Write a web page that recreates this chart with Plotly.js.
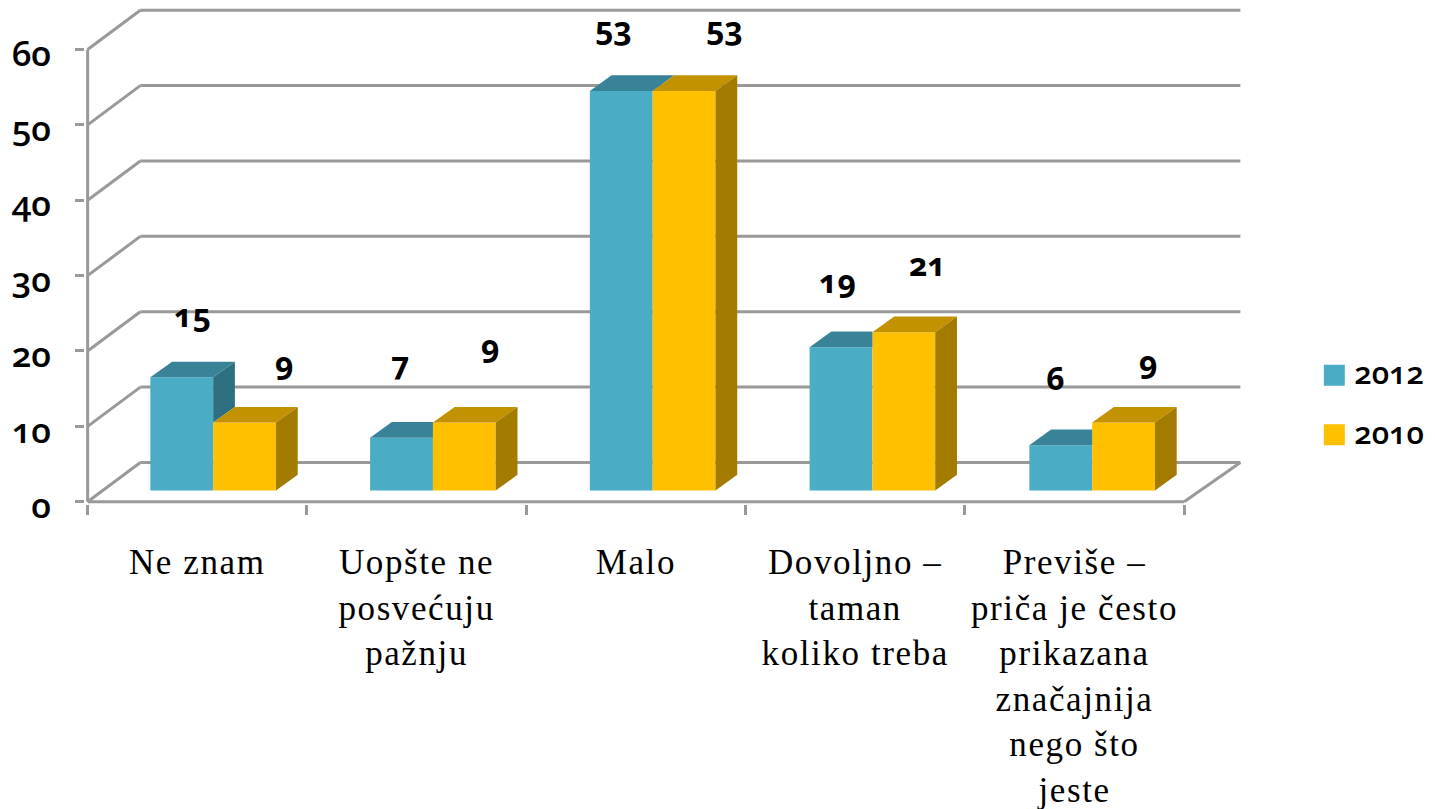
<!DOCTYPE html>
<html><head><meta charset="utf-8">
<script src="https://cdn.plot.ly/plotly-3.0.1.min.js"></script>
<style>html,body{margin:0;padding:0;background:#fff}#c{width:1435px;height:809px}
text{font-variant-numeric:oldstyle-nums;font-feature-settings:"onum"}
.xtick text{letter-spacing:1.6px}
.legendtext{transform:translateY(-3px)}</style>
</head><body><div id="c"></div>
<script>
const categories = ["Ne znam","Uopšte ne<br>posvećuju<br>pažnju","Malo","Dovoljno –<br>taman<br>koliko treba","Previše –<br>priča je često<br>prikazana<br>značajnija<br>nego što<br>jeste"];
const values2012 = [15,7,53,19,6];
const values2010 = [9,9,53,21,9];
const yTicks = [0,10,20,30,40,50,60];

// 3D look, in axis units
const wallDx = 0.2403, wallDxRight = 0.2563, wallDy = 5.205;
const barStart = 0.286, barPitch = 1.002, barW = 0.2865, barBase = 1.5, barDx = 0.099, barDy = 2.07;
// label nudges in pixels [2012 then 2010]
const labelDx = [[10.5,-2,-8,-3.5,-6],[39.5,26,40,23.5,24]];
const labelDy = [[63,75,63,67,68],[60,77,63,69,61]];

const cols = {c12:{f:'#4BACC6',t:'#398399',s:'#2F6F82'}, c10:{f:'#FFC000',t:'#C29200',s:'#A37B00'}};
const SERIF = '"Liberation Serif","DejaVu Serif",serif';
const NUM = '"Open Sans","Noto Sans",sans-serif';
const idx = categories.map((_,i)=>i);
const barX = i => i*barPitch+barStart;

function barTrace(name,vals,off,c){
  return {type:'bar',name:name,legendgroup:name,x:idx.map(i=>barX(i)+off+barW/2),y:vals,base:vals.map(()=>barBase),
    width:barW,marker:{color:c.f,line:{width:0}},hoverinfo:'x+y'};
}
function poly(xs,ys,color){
  return {type:'scatter',mode:'lines',x:xs,y:ys,fill:'toself',fillcolor:color,line:{width:0,color:color},showlegend:false,hoverinfo:'skip'};
}
const faces=[];
idx.forEach(i=>{
  const a=values2012[i], b=values2010[i];
  const x0=barX(i), x1=x0+barW, x2=x1+barW;
  const topA=barBase+a, topB=barBase+b;
  // 2012 side, only the part that rises above the 2010 bar
  if(a>b) faces.push(poly([x1,x1+barDx,x1+barDx,x1,x1],[topA,topA+barDy,topB+barDy,topB,topA],cols.c12.s));
  // 2012 top: hidden by the 2010 front when the 2010 bar is taller
  const rightEdge = b>a ? x1 : x1+barDx;
  faces.push(poly([x0,x0+barDx,rightEdge,x1,x0],[topA,topA+barDy,topA+barDy,topA,topA],cols.c12.t));
  faces.push(poly([x1,x1+barDx,x2+barDx,x2,x1],[topB,topB+barDy,topB+barDy,topB,topB],cols.c10.t));
  faces.push(poly([x2,x2+barDx,x2+barDx,x2,x2],[topB,topB+barDy,barBase+barDy,barBase,topB],cols.c10.s));
});

const grey='#999999', lw=3;
const seg=(x0,y0,x1,y1)=>({type:'line',xref:'x',yref:'y',x0,y0,x1,y1,layer:'below',line:{color:grey,width:lw}});
const shapes=[seg(0,0,0,60),seg(0,0,5,0),seg(5,0,5+wallDxRight,wallDy)];
yTicks.forEach(v=>{shapes.push(seg(0,v,wallDx,v+wallDy));shapes.push(seg(wallDx,v+wallDy,5+wallDxRight,v+wallDy));});

const annotations=[];
[values2012,values2010].forEach((vals,s)=>vals.forEach((v,i)=>{
  annotations.push({x:barX(i)+barW*(s+0.5),y:barBase+v,xref:'x',yref:'y',text:'<b>'+v+'</b>',showarrow:false,
    xanchor:'center',yanchor:'middle',xshift:labelDx[s][i],yshift:labelDy[s][i],
    font:{family:NUM,size:32,color:'#000'}});
}));

const layout={
  width:1435,height:809,paper_bgcolor:'#fff',plot_bgcolor:'rgba(0,0,0,0)',
  margin:{l:84.67,r:192.4,t:7.5,b:304.73,pad:0},
  barmode:'overlay',showlegend:true,
  xaxis:{range:[-0.012,5+wallDxRight+0.012],tickvals:idx.map(i=>i+0.5),ticktext:categories,tickmode:'array',ticks:'',
    showgrid:false,zeroline:false,showline:false,tickangle:0,ticklabelstandoff:34,
    tickfont:{family:SERIF,size:35,color:'#000'},
    minor:{tickvals:[0,1,2,3,4,5],ticks:'outside',ticklen:10,tickwidth:lw,tickcolor:grey,showgrid:false}},
  yaxis:{range:[-0.3,65.5],tickvals:yTicks,tickmode:'array',ticks:'outside',ticklen:9,tickwidth:lw,tickcolor:grey,
    showgrid:false,zeroline:false,showline:false,ticklabelstandoff:17,ticklabelshift:4,
    tickfont:{family:NUM,size:35,weight:600,color:'#000'}},
  legend:{xref:'container',yref:'container',x:0.9159,y:0.569,xanchor:'left',yanchor:'top',orientation:'v',traceorder:'grouped',
    bgcolor:'rgba(0,0,0,0)',tracegroupgap:16,font:{family:NUM,size:31,weight:600,color:'#000'},itemclick:false,itemdoubleclick:false},
  shapes,annotations
};

const data=[barTrace('2012',values2012,0,cols.c12),barTrace('2010',values2010,barW,cols.c10)].concat(faces);
Plotly.newPlot('c',data,layout,{displayModeBar:false,responsive:false}).then(()=>{
  document.querySelectorAll('#c .legend .legendpoints path').forEach(p=>p.setAttribute('d','M10.5,10.5H-10.5V-10.5H10.5Z'));
});
</script></body></html>
